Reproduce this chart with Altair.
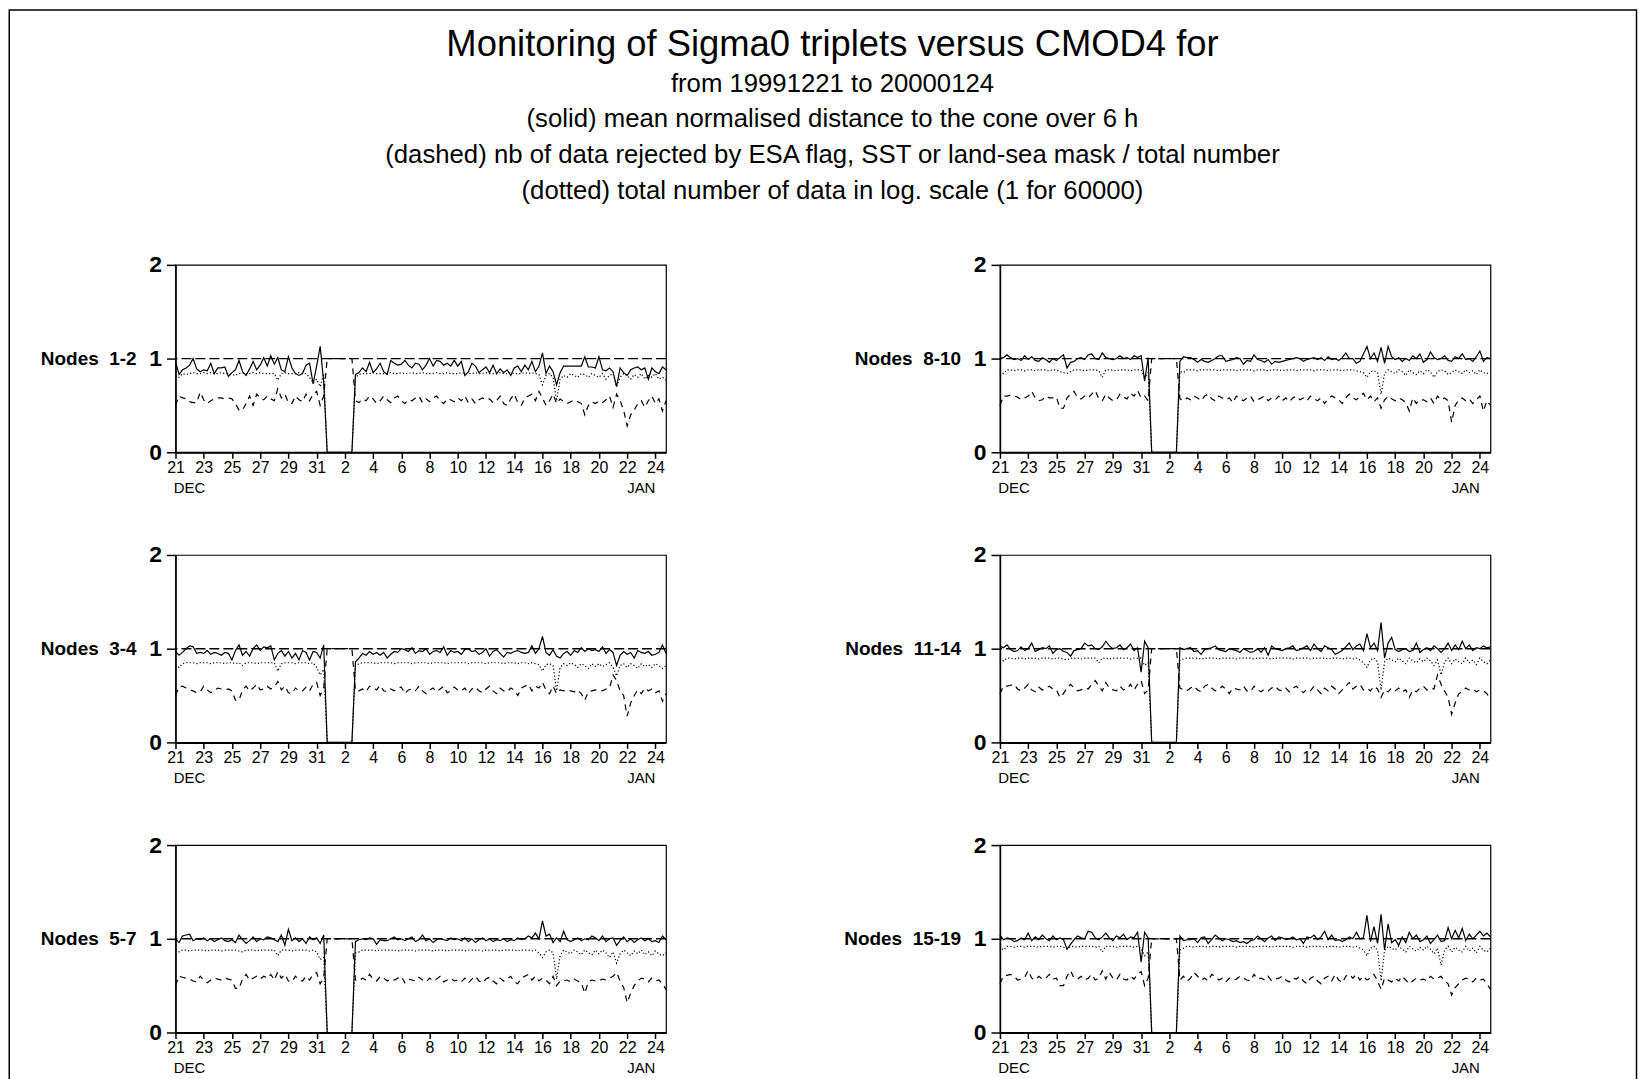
import altair as alt
import pandas as pd

FONT = "Liberation Sans"

# ---- text ----
title_lines = [
    "Monitoring of Sigma0 triplets versus CMOD4 for",
    "from 19991221 to 20000124",
    "(solid) mean normalised distance to the cone over 6 h",
    "(dashed) nb of data rejected by ESA flag, SST or land-sea mask / total number",
    "(dotted) total number of data in log. scale (1 for 60000)",
]
panel_names = ["Nodes\u00a0 1-2", "Nodes\u00a0 8-10", "Nodes\u00a0 3-4",
               "Nodes\u00a0 11-14", "Nodes\u00a0 5-7", "Nodes\u00a0 15-19"]
dec_tick_days = [21, 23, 25, 27, 29, 31]
jan_tick_days = [2, 4, 6, 8, 10, 12, 14, 16, 18, 20, 22, 24]
month_labels = ["DEC", "JAN"]
month_label_dates = ["1999-12-22T00:00:00", "2000-01-23T00:00:00"]
y_ticks = [0, 1, 2]
ref_level = [1.0]

# 6-hourly time stamps, 1999-12-21 00h .. 2000-01-24 18h
times = pd.date_range("1999-12-21 00:00", "2000-01-24 18:00", freq="6h")

# ---- values (hundredths) ----
S12 = [97,83,88,90,93,100,89,86,88,87,95,84,90,90,91,81,85,88,98,86,
       82,89,97,88,93,101,92,103,94,101,88,86,102,90,84,82,84,93,95,73,
       92,113,75,0,0,0,0,0,0,0,0,83,85,90,86,96,85,89,95,86,
       83,98,95,93,94,98,93,90,95,94,88,93,100,92,98,97,93,95,92,98,
       92,97,82,86,95,92,85,88,91,85,93,84,89,85,88,82,90,92,86,93,
       88,97,86,92,106,84,92,86,72,85,92,92,92,92,92,92,102,91,91,90,
       102,88,87,90,86,70,90,85,82,88,90,91,88,90,78,90,86,84,91,88]
D12 = [82,80,84,83,84,85,84,84,85,84,85,84,84,85,84,84,83,82,84,85,
       84,84,85,84,85,84,84,84,84,77,84,85,84,84,84,85,84,84,80,74,
       78,70,84,0,0,0,0,0,0,0,0,80,83,84,84,84,85,84,84,84,
       84,85,84,84,85,84,84,85,84,84,85,84,84,84,85,84,84,85,84,84,
       84,85,84,84,84,85,84,84,85,84,84,84,85,84,84,85,84,84,84,85,
       84,85,84,83,72,82,84,80,55,78,82,80,84,82,80,84,83,80,84,82,
       80,84,78,82,84,70,80,84,82,78,83,80,84,78,82,80,84,78,80,77]
R12 = [50,60,58,57,54,53,53,64,56,52,55,57,58,58,57,58,57,52,45,45,
       52,60,50,62,58,56,60,57,55,68,58,62,53,52,60,56,54,62,55,62,
       65,50,60,100,100,100,100,100,100,100,100,55,53,57,55,60,57,52,55,60,
       56,53,58,60,55,52,56,55,58,60,53,57,54,58,60,55,52,57,56,54,
       58,55,60,53,57,52,56,58,56,57,53,55,60,52,50,57,62,53,50,58,
       60,62,55,65,58,50,55,62,52,57,54,52,54,56,54,52,40,50,54,52,
       55,53,56,60,48,62,55,45,28,40,45,52,55,48,55,60,52,57,44,55]

S810 = [100,101,104,101,99,100,98,103,99,102,98,97,101,99,96,100,98,101,104,90,
        96,97,100,101,99,104,105,100,99,106,101,100,99,100,103,100,101,99,103,101,
        103,76,101,0,0,0,0,0,0,0,0,97,102,101,101,99,96,99,97,96,
        98,100,103,103,97,98,99,101,100,94,98,97,104,99,98,96,99,94,97,96,
        97,98,99,100,101,100,97,99,100,101,99,101,98,102,99,100,98,101,106,100,
        100,95,97,105,113,100,106,97,112,95,113,102,99,101,97,100,98,103,100,105,
        96,99,107,101,99,100,103,98,97,102,100,105,99,100,97,102,108,97,101,100]
D810 = [87,84,88,88,87,88,88,87,88,88,87,88,88,88,87,88,88,86,85,84,
        86,88,88,88,87,88,88,88,87,80,88,88,88,87,88,88,88,87,88,88,
        88,80,85,0,0,0,0,0,0,0,0,86,85,88,88,88,87,88,88,88,
        88,88,87,88,88,88,88,87,88,88,88,88,87,88,88,88,87,88,88,88,
        87,88,88,88,87,88,88,88,88,87,88,88,88,87,88,88,88,87,88,88,
        88,87,86,85,80,86,87,85,62,84,88,86,84,88,86,82,88,85,83,87,
        84,88,86,80,86,88,87,83,85,88,86,84,88,85,87,83,88,85,84,86]
R810 = [50,60,60,61,60,59,56,58,60,65,58,55,56,60,58,58,59,47,47,58,
        62,65,58,57,60,58,62,66,57,55,62,58,55,56,62,59,57,63,60,66,
        58,60,55,100,100,100,100,100,100,100,100,57,55,58,56,60,58,55,60,62,
        57,55,60,58,56,58,53,60,57,55,58,60,54,56,58,60,55,58,56,60,
        55,58,54,58,60,56,58,55,60,57,55,58,52,57,60,58,56,52,58,62,
        58,56,60,63,56,60,54,58,47,56,60,57,55,58,56,53,44,58,52,56,
        56,54,58,52,60,56,58,55,32,50,56,58,55,57,52,56,60,44,55,50]

S34 = [97,93,96,100,103,102,95,96,95,98,94,96,95,93,96,95,88,98,104,93,
       97,92,100,104,98,102,101,103,88,95,98,92,97,90,95,88,98,96,88,97,
       96,90,104,0,0,0,0,0,0,0,0,86,90,95,93,97,94,96,93,96,
       90,94,97,96,100,99,97,101,95,98,97,100,94,97,98,96,102,93,98,96,
       97,94,99,100,97,98,94,96,100,92,97,99,95,91,96,95,97,98,96,95,
       96,103,95,100,113,96,93,99,92,90,95,97,93,98,96,101,97,100,98,99,
       97,102,95,99,96,82,93,97,94,96,90,98,96,95,97,93,94,96,104,95]
D34 = [83,80,84,85,85,85,84,85,85,85,84,85,85,85,84,85,85,84,85,82,
       85,85,85,84,85,85,85,85,85,76,84,85,85,85,84,85,85,85,84,85,
       80,72,78,0,0,0,0,0,0,0,0,82,84,85,85,85,85,84,85,85,
       85,85,84,85,85,85,85,84,85,85,85,85,84,85,85,85,85,84,85,85,
       85,85,85,84,85,85,85,85,84,85,85,85,85,84,85,85,85,84,85,85,
       84,85,84,83,76,83,84,82,55,80,84,82,85,83,80,84,82,79,84,81,
       84,81,83,85,80,71,82,84,80,84,82,79,84,81,83,80,84,82,79,82]
R34 = [50,59,60,58,56,55,53,54,60,56,53,55,58,57,56,57,55,45,45,56,
       60,55,58,62,56,57,60,57,59,65,56,60,53,52,58,55,55,59,55,62,
       64,50,58,100,100,100,100,100,100,100,100,55,55,57,54,60,58,56,61,55,
       54,57,55,58,59,52,56,57,55,60,55,52,56,58,54,57,60,53,55,59,
       56,55,58,52,57,59,55,53,57,60,55,52,58,55,54,58,56,50,58,60,
       62,55,60,58,64,56,52,60,52,56,55,56,55,54,56,52,45,54,55,56,
       56,55,57,58,72,66,55,50,28,42,50,56,52,58,55,57,53,55,44,52]

S1114 = [103,101,104,99,97,98,102,98,100,106,97,99,101,100,103,95,99,100,97,96,
         92,98,99,100,106,103,104,100,99,102,108,103,100,101,104,99,101,105,98,101,
         75,108,101,0,0,0,0,0,0,0,0,101,99,100,101,97,98,94,99,100,
         101,103,99,98,97,100,99,98,96,100,98,96,97,100,96,101,93,103,100,99,
         98,100,101,103,98,99,101,103,98,105,100,97,103,101,99,94,96,98,102,106,
         99,103,105,98,116,101,106,98,128,90,106,112,99,97,99,100,97,98,106,96,
         99,101,98,103,100,96,100,106,98,104,99,108,100,104,98,101,100,103,101,102]
D1114 = [90,87,90,90,89,90,90,89,90,90,90,89,90,90,90,89,90,90,89,88,
         90,90,90,89,90,90,90,90,85,90,90,89,90,90,90,90,90,89,90,90,
         90,82,85,0,0,0,0,0,0,0,0,88,89,90,90,90,90,89,90,90,
         90,90,89,90,90,90,90,89,90,90,90,90,89,90,90,90,90,89,90,90,
         90,90,90,89,90,90,90,90,89,90,90,90,90,89,90,90,90,89,90,90,
         89,90,88,85,80,88,90,86,56,86,90,88,86,90,87,84,90,87,85,89,
         86,90,87,82,88,72,86,90,84,89,86,84,90,85,88,83,90,86,84,88]
R1114 = [52,60,60,61,62,57,55,58,62,56,54,59,56,58,60,57,56,48,52,58,
         62,58,55,56,58,57,62,66,60,55,64,58,56,55,60,56,57,62,56,62,
         66,52,56,100,100,100,100,100,100,100,100,58,56,55,58,60,56,54,60,62,
         58,55,56,60,57,52,58,57,56,60,55,54,60,56,54,57,55,58,60,56,
         55,58,54,58,60,56,53,57,55,60,56,52,58,55,60,57,52,56,60,64,
         57,60,62,56,58,55,60,57,48,56,54,58,55,58,54,56,48,56,54,58,
         60,56,58,57,72,62,55,48,30,42,52,54,58,56,57,54,56,55,52,46]

S57 = [100,96,103,104,105,98,100,99,101,98,100,97,99,101,98,97,99,96,104,99,
       95,98,102,97,100,99,102,101,99,97,104,93,110,98,101,97,100,95,102,99,
       101,95,104,0,0,0,0,0,0,0,0,97,99,100,99,101,100,94,99,98,
       98,100,102,99,100,98,100,102,97,99,104,98,100,96,99,100,99,98,101,99,
       100,98,101,97,100,96,99,101,98,100,97,99,98,100,97,99,98,101,99,100,
       103,101,106,100,119,103,105,96,101,97,108,99,97,99,101,98,100,99,103,101,
       98,103,97,100,101,93,98,102,97,100,96,99,101,98,100,97,98,96,103,99]
D57 = [88,86,88,88,87,88,88,88,88,87,88,88,88,87,88,88,88,88,87,86,
       88,88,88,87,88,88,88,88,88,82,88,88,88,87,88,88,88,88,87,88,
       86,78,80,0,0,0,0,0,0,0,0,85,86,88,88,88,88,87,88,88,
       88,88,88,87,88,88,88,88,87,88,88,88,88,87,88,88,88,87,88,88,
       88,88,87,88,88,88,88,87,88,88,88,88,87,88,88,88,88,87,88,88,
       88,87,88,85,80,86,88,85,57,82,88,86,84,88,86,83,88,85,83,88,
       84,88,85,80,86,74,84,88,85,82,87,84,88,83,86,82,87,84,82,85]
R57 = [50,60,59,58,57,55,54,60,56,53,56,58,57,56,58,57,56,47,47,57,
       62,56,58,60,57,60,58,62,56,65,58,62,55,54,60,56,55,60,56,62,
       64,52,58,100,100,100,100,100,100,100,100,56,55,58,56,62,57,55,60,58,
       55,57,56,58,60,53,57,56,55,59,56,54,58,55,57,60,54,56,58,55,
       56,54,58,53,57,60,55,53,57,59,55,52,58,55,57,60,54,52,58,60,
       62,56,60,55,58,56,52,60,50,55,55,56,54,57,55,53,42,54,56,55,
       55,57,56,58,60,64,55,48,32,42,50,55,58,57,54,58,55,56,52,46]

S1519 = [104,99,101,100,97,98,101,99,106,98,102,99,104,100,98,103,99,101,99,89,
         94,99,103,101,100,108,107,101,99,102,106,101,98,103,101,105,99,102,101,107,
         75,107,101,0,0,0,0,0,0,0,0,103,98,99,99,100,96,101,102,95,
         99,104,101,98,100,99,97,98,96,97,95,98,99,103,100,97,101,103,98,102,
         101,99,100,102,99,100,95,102,101,104,99,102,108,99,104,98,99,97,99,102,
         100,107,100,101,125,97,113,95,126,88,116,96,99,93,102,96,107,100,104,97,
         99,103,95,99,104,97,98,112,100,109,101,111,98,105,100,104,108,103,106,102]
D1519 = [92,88,92,92,91,92,92,91,92,92,92,91,92,92,92,91,92,92,91,89,
         92,92,91,92,92,92,92,91,92,86,92,92,92,91,92,92,92,92,91,92,
         90,82,86,0,0,0,0,0,0,0,0,88,90,92,92,91,92,92,92,91,
         92,92,91,92,92,92,92,91,92,92,92,92,91,92,92,92,92,91,92,92,
         92,92,92,91,92,92,92,91,92,92,92,92,91,92,92,92,91,92,92,92,
         91,92,90,88,82,90,92,88,55,88,92,90,88,92,89,86,92,89,87,91,
         88,92,89,84,90,72,88,92,86,91,88,86,92,87,90,85,92,88,86,90]
R1519 = [52,60,61,62,60,56,57,59,66,58,56,60,57,58,62,57,58,50,50,60,
         66,58,57,60,56,58,62,56,58,66,57,64,58,56,62,57,56,60,57,62,
         65,50,58,100,100,100,100,100,100,100,100,56,60,55,58,64,60,56,58,55,
         62,60,56,58,54,58,56,57,60,58,56,55,62,57,58,56,60,55,57,58,
         60,56,54,58,57,60,55,52,58,60,55,52,58,60,55,62,56,53,60,62,
         58,62,56,60,56,58,62,55,46,58,56,54,58,55,60,56,52,55,58,56,
         57,55,60,57,58,60,55,52,40,48,52,56,58,57,54,58,56,57,52,46]

panels = [(S12, D12, R12), (S810, D810, R810), (S34, D34, R34),
          (S1114, D1114, R1114), (S57, D57, R57), (S1519, D1519, R1519)]

# ---- layout ----
W, H = 492, 188

tick_dates = ([alt.DateTime(year=1999, month=12, date=d) for d in dec_tick_days] +
              [alt.DateTime(year=2000, month=1, date=d) for d in jan_tick_days])
xscale = alt.Scale(domain=[alt.DateTime(year=1999, month=12, date=21, hours=0),
                           alt.DateTime(year=2000, month=1, date=24, hours=18)], nice=False)
yscale = alt.Scale(domain=[0, 2], nice=False)

xaxis = alt.Axis(values=tick_dates, format="%-d", title=None, labelFont=FONT,
                 labelFontSize=16, labelColor="black", labelPadding=1, tickSize=6,
                 tickColor="black", tickWidth=1.5, domainColor="black", domainWidth=2,
                 grid=False, labelFlush=False, labelOverlap=False, tickCount=40)

yaxis = alt.Axis(values=y_ticks, format="d", title=None, tickCount=10, tickMinStep=0.25,
                 labelFont=FONT, labelFontSize=23, labelFontWeight="bold",
                 labelColor="black", labelPadding=5, tickSize=9, tickColor="black",
                 tickWidth=1.5, domainColor="black", domainWidth=1.5, grid=False,
                 labelFlush=False, labelOverlap=False)


def panel(name, S, D, R, first=False):
    df = pd.DataFrame({
        "date": list(times) * 3,
        "series": ["solid"] * len(times) + ["dotted"] * len(times) + ["dashed"] * len(times),
        "value": [v / 100 for v in S + D + R],
    })
    xenc = alt.X("date:T", scale=xscale, axis=xaxis)
    base = alt.Chart(df)
    layers = []
    if first:
        layers.append(
            alt.Chart(pd.DataFrame({"b": [0]})).mark_rect(
                fill="white", fillOpacity=0, stroke="black", strokeWidth=1.5
            ).encode(x=alt.value(-166.75), x2=alt.value(1465.5),
                     y=alt.value(-255.75), y2=alt.value(818))
        )
        title_y = [-220.5, -181.5, -146, -110.5, -74.5]
        for i, line in enumerate(title_lines):
            layers.append(
                alt.Chart(pd.DataFrame({"t": [line]})).mark_text(
                    font=FONT, fontSize=36.5 if i == 0 else 25.8, color="black",
                    align="center", baseline="middle"
                ).encode(text="t:N", x=alt.value(659), y=alt.value(title_y[i]))
            )
    styles = [("dashed", [6, 5]), ("dotted", [1.2, 2.2]), ("solid", None)]
    for s, dash in styles:
        kw = {"strokeDash": dash} if dash else {}
        layers.append(
            base.transform_filter(alt.datum.series == s).mark_line(
                color="black", strokeWidth=1.2, **kw
            ).encode(x=xenc, y=alt.Y("value:Q", scale=yscale, axis=yaxis))
        )
    ref_df = pd.DataFrame({"ref": ref_level, "name": [name]})
    layers.append(
        alt.Chart(ref_df).mark_rule(
            color="black", strokeWidth=1.4, strokeDash=[10, 4]
        ).encode(y=alt.Y("ref:Q", scale=yscale, axis=yaxis))
    )
    # panel name, placed at the reference level left of the y axis
    layers.append(
        alt.Chart(ref_df).mark_text(
            font=FONT, fontSize=19, fontWeight="bold", color="black",
            align="right", baseline="middle"
        ).encode(y=alt.Y("ref:Q", scale=yscale, axis=yaxis), x=alt.value(-39), text="name:N")
    )
    layers.append(
        alt.Chart(pd.DataFrame({"date": month_label_dates, "label": month_labels})).mark_text(
            font=FONT, fontSize=15, color="black", baseline="middle"
        ).encode(x=xenc, y=alt.value(H + 35.5), text="label:N")
    )
    return alt.layer(*layers).properties(width=W, height=H)


charts = [panel(panel_names[i], *panels[i], first=(i == 0)) for i in range(6)]

chart = alt.concat(
    *charts, columns=2, spacing={"row": 103, "column": 335}, bounds="flush"
).properties(
    padding={"left": -1, "top": -2, "right": 0, "bottom": 0}, background="white"
).configure_view(stroke="black", strokeWidth=1.2)

chart.save("out.html", embed_options={"renderer": "svg", "actions": False})
